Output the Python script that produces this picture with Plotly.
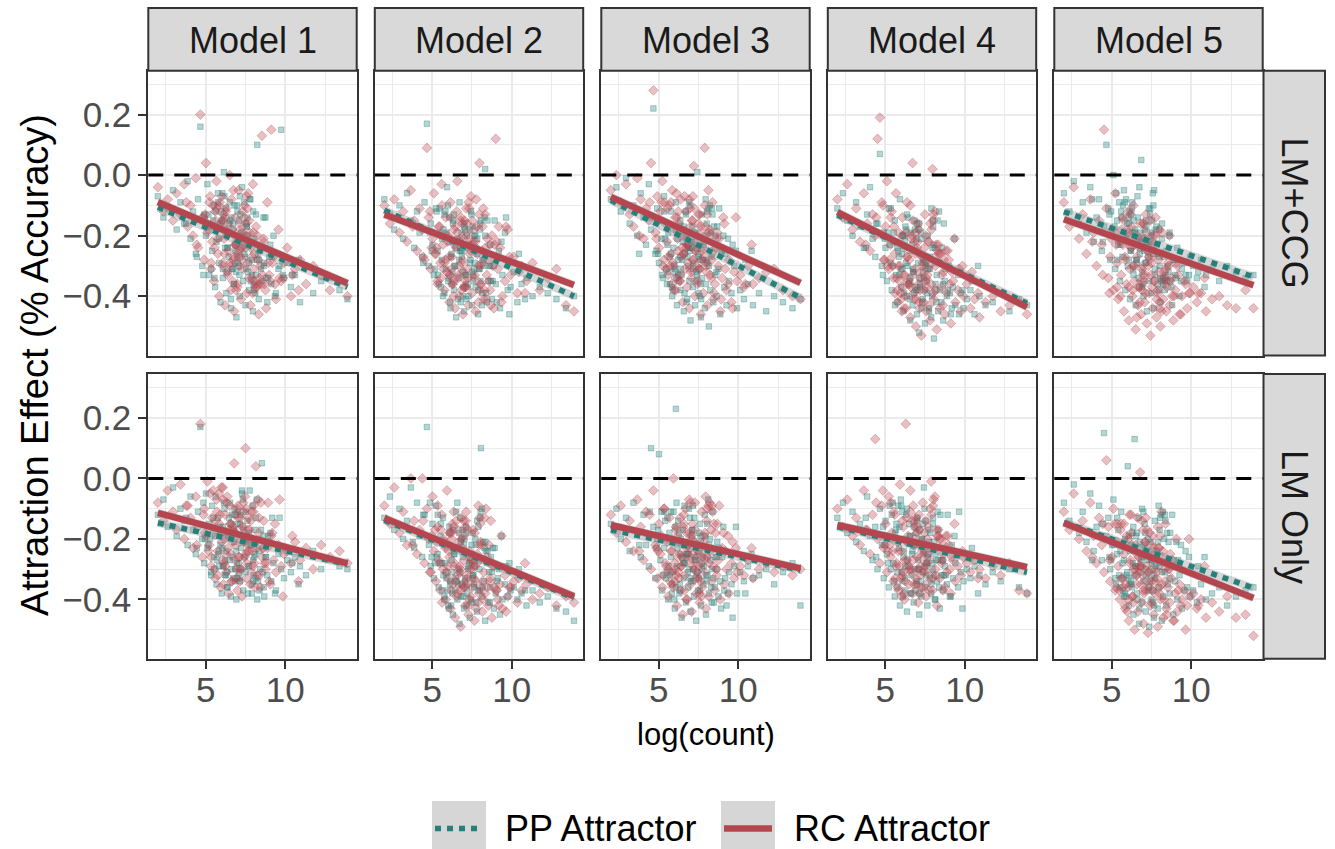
import plotly.graph_objects as go

# ---------------------------------------------------------------- data
models = ["Model 1", "Model 2", "Model 3", "Model 4", "Model 5"]
conditions = ["LM+CCG", "LM Only"]
series_names = ["PP Attractor", "RC Attractor"]

x_tick_vals = [5, 10]
x_tick_text = ["5", "10"]
y_tick_vals = [-0.4, -0.2, 0.0, 0.2]
y_tick_text = ["\u22120.4", "\u22120.2", "0.0", "0.2"]

# log frequency of each item (shared by every panel and both attractor types)
log_count = [
    2.00, 2.35, 2.62, 2.95, 3.18, 3.42, 3.66, 3.87, 4.05, 4.21,
    4.38, 4.52, 4.67, 4.79, 4.91, 5.02, 5.11, 5.23, 5.34, 5.41,
    5.52, 5.60, 5.68, 5.77, 5.85, 5.93, 6.01, 6.08, 6.15, 6.22,
    6.30, 6.37, 6.44, 6.51, 6.58, 6.65, 6.72, 6.79, 6.86, 6.93,
    7.00, 7.07, 7.14, 7.21, 7.28, 7.36, 7.43, 7.50, 7.58, 7.65,
    7.73, 7.81, 7.89, 7.97, 8.06, 8.15, 8.24, 8.33, 8.43, 8.53,
    8.64, 8.75, 8.87, 8.99, 9.12, 9.26, 9.41, 9.57, 9.74, 9.92,
    10.12, 10.35, 10.61, 10.92, 11.30, 11.75, 12.25, 12.80, 13.40, 13.90,
    6.47, 7.12, 5.83, 8.21, 6.96, 7.54, 6.18, 8.68, 5.47, 7.83,
    6.62, 7.29, 8.04, 5.98, 6.84, 9.06, 7.41, 6.33, 7.95, 5.71,
    6.76, 8.38, 7.18, 6.05, 8.92, 7.67, 5.35, 6.54, 7.47, 8.12,
    6.27, 7.03, 8.57, 5.90, 6.91, 7.76, 9.35, 6.40, 7.24, 8.47,
    5.62, 6.69, 7.58, 8.29, 4.86, 6.12, 7.37, 8.80, 6.81, 7.90,
    5.28, 6.58, 7.09, 9.64, 6.23, 7.71, 8.16, 5.77, 6.99, 7.33,
    4.44, 8.63, 6.36, 7.52, 10.44, 5.55, 6.74, 8.01, 7.15, 9.18,
    4.97, 6.08, 7.62, 8.34, 5.18, 6.88, 7.99, 9.85, 3.78, 10.83,
]

# ---- LM+CCG: RC attractor effects
rc_ccg_m1 = [
    -0.04, -0.12, -0.08, -0.15, -0.06, -0.13, -0.03, -0.17, -0.10, -0.20,
    -0.01, -0.24, 0.20, -0.14, -0.28, 0.04, -0.19, -0.09, -0.31, -0.22,
    -0.35, -0.12, -0.02, -0.26, -0.40, -0.16, -0.07, -0.30, -0.21, -0.43,
    -0.11, -0.33, -0.25, 0.00, -0.38, -0.18, -0.28, -0.45, -0.14, -0.23,
    -0.36, -0.05, -0.27, -0.41, -0.19, -0.31, -0.10, -0.24, -0.39, -0.29,
    -0.15, -0.43, -0.34, -0.03, -0.26, -0.37, -0.20, -0.46, -0.30, 0.13,
    -0.22, -0.38, -0.09, -0.33, 0.15, -0.27, -0.41, -0.18, -0.35, -0.29,
    -0.24, -0.40, -0.31, -0.28, -0.36, -0.30, -0.33, -0.38, -0.35, -0.40,
    -0.19, -0.30, -0.10, -0.37, -0.22, -0.16, -0.26, -0.36, -0.10, -0.24,
    -0.08, -0.28, -0.35, -0.17, -0.23, -0.35, -0.14, -0.20, -0.39, -0.11,
    -0.27, -0.34, -0.18, -0.15, -0.29, -0.06, -0.29, -0.29, -0.21, -0.36,
    -0.12, -0.26, -0.33, -0.09, -0.38, -0.19, -0.36, -0.16, -0.24, -0.36,
    -0.15, -0.35, -0.07, -0.28, -0.14, -0.13, -0.23, -0.44, -0.20, -0.27,
    -0.07, -0.30, -0.25, -0.34, -0.14, -0.34, -0.17, -0.21, -0.37, -0.12,
    -0.23, -0.21, -0.32, -0.20, -0.33, -0.24, -0.05, -0.31, -0.16, -0.29,
    -0.13, -0.29, -0.11, -0.36, -0.18, -0.23, -0.19, -0.34, -0.09, -0.38,
]
rc_ccg_m2 = [
    -0.10, -0.16, -0.08, -0.19, -0.12, -0.22, -0.05, -0.15, -0.25, -0.11,
    -0.18, -0.28, 0.09, -0.14, -0.31, -0.21, -0.06, -0.26, -0.35, -0.17,
    -0.29, -0.03, -0.23, -0.38, -0.14, -0.32, -0.20, -0.42, -0.09, -0.27,
    -0.36, -0.18, -0.44, -0.24, -0.02, -0.33, -0.40, -0.15, -0.29, -0.46,
    -0.21, -0.37, -0.11, -0.31, -0.43, -0.26, -0.07, -0.39, -0.22, -0.34,
    -0.45, -0.17, -0.30, 0.04, -0.36, -0.25, -0.41, -0.13, -0.33, -0.28,
    -0.38, -0.20, -0.44, 0.12, -0.31, -0.24, -0.40, -0.35, -0.18, -0.33,
    -0.27, -0.39, -0.30, -0.35, -0.29, -0.38, -0.34, -0.31, -0.43, -0.45,
    -0.17, -0.37, -0.28, -0.11, -0.32, -0.23, -0.14, -0.43, -0.17, -0.26,
    -0.34, -0.09, -0.30, -0.22, -0.38, -0.22, -0.25, -0.35, -0.13, -0.31,
    -0.21, -0.41, -0.16, -0.27, -0.23, -0.33, -0.36, -0.12, -0.24, -0.29,
    -0.36, -0.15, -0.35, -0.20, -0.28, -0.08, -0.42, -0.23, -0.34, -0.21,
    -0.10, -0.30, -0.24, -0.38, -0.12, -0.33, -0.21, -0.30, -0.14, -0.42,
    -0.24, -0.19, -0.35, -0.17, -0.31, -0.22, -0.17, -0.29, -0.37, -0.11,
    -0.27, -0.23, -0.40, -0.15, -0.32, -0.34, -0.22, -0.36, -0.19, -0.17,
    -0.24, -0.33, -0.18, -0.24, -0.26, -0.16, -0.38, -0.27, -0.17, -0.39,
]
rc_ccg_m3 = [
    -0.05, 0.00, -0.09, -0.03, -0.13, -0.17, -0.01, -0.08, -0.21, -0.11,
    -0.15, 0.04, 0.28, -0.19, -0.07, -0.24, -0.12, -0.02, -0.28, -0.16,
    -0.22, -0.33, -0.10, -0.26, -0.05, -0.30, -0.18, -0.38, -0.14, -0.25,
    -0.35, -0.08, -0.27, -0.42, -0.20, -0.31, -0.12, -0.37, -0.23, -0.44,
    -0.17, -0.34, -0.28, 0.03, -0.40, -0.22, -0.36, -0.13, -0.31, -0.46,
    -0.25, -0.39, 0.09, -0.29, -0.43, -0.19, -0.33, -0.26, -0.41, -0.36,
    -0.21, -0.30, -0.45, -0.34, -0.16, -0.38, -0.28, -0.42, -0.32, -0.35,
    -0.33, -0.37, -0.30, -0.36, -0.34, -0.32, -0.31, -0.38, -0.40, -0.41,
    -0.24, -0.15, -0.36, -0.18, -0.11, -0.31, -0.21, -0.19, -0.31, -0.27,
    -0.07, -0.25, -0.13, -0.38, -0.29, -0.14, -0.20, -0.33, -0.17, -0.30,
    -0.23, -0.09, -0.28, -0.14, -0.41, -0.19, -0.09, -0.26, -0.35, -0.05,
    -0.16, -0.32, -0.24, -0.29, -0.08, -0.24, -0.36, -0.18, -0.11, -0.39,
    -0.27, -0.20, -0.13, -0.34, -0.21, -0.06, -0.30, -0.21, -0.23, -0.10,
    -0.30, -0.26, -0.15, -0.44, -0.12, -0.28, -0.20, -0.09, -0.31, -0.25,
    -0.09, -0.24, -0.35, -0.16, -0.36, -0.11, -0.24, -0.32, -0.07, -0.31,
    -0.15, -0.34, -0.17, -0.28, -0.09, -0.23, -0.30, -0.14, -0.20, -0.23,
]
rc_ccg_m4 = [
    -0.08, -0.14, -0.03, -0.18, -0.11, -0.22, -0.06, -0.16, -0.25, -0.13,
    -0.20, 0.12, 0.19, -0.09, -0.28, -0.17, -0.02, -0.31, -0.23, -0.12,
    -0.34, -0.26, -0.06, -0.38, -0.19, -0.30, -0.41, -0.14, -0.33, -0.24,
    -0.44, -0.09, -0.36, -0.28, -0.47, -0.21, 0.04, -0.39, -0.31, -0.50,
    -0.25, -0.16, -0.42, -0.34, -0.53, -0.27, -0.38, -0.13, -0.45, -0.33,
    -0.22, -0.48, -0.36, 0.02, -0.41, -0.30, -0.51, -0.26, -0.44, -0.37,
    -0.32, -0.46, -0.39, -0.28, -0.49, -0.35, -0.42, -0.38, -0.45, -0.40,
    -0.36, -0.44, -0.41, -0.47, -0.42, -0.40, -0.45, -0.43, -0.42, -0.46,
    -0.35, -0.18, -0.30, -0.23, -0.41, -0.20, -0.44, -0.28, -0.30, -0.16,
    -0.37, -0.27, -0.13, -0.39, -0.22, -0.36, -0.42, -0.19, -0.29, -0.34,
    -0.15, -0.26, -0.38, -0.45, -0.25, -0.31, -0.14, -0.36, -0.24, -0.12,
    -0.40, -0.22, -0.33, -0.35, -0.19, -0.43, -0.21, -0.27, -0.32, -0.26,
    -0.39, -0.20, -0.34, -0.25, -0.10, -0.37, -0.29, -0.25, -0.41, -0.18,
    -0.28, -0.10, -0.36, -0.31, -0.33, -0.22, -0.38, -0.42, -0.24, -0.30,
    -0.14, -0.43, -0.27, -0.35, -0.32, -0.17, -0.33, -0.15, -0.44, -0.32,
    -0.28, -0.20, -0.37, -0.23, -0.30, -0.26, -0.39, -0.30, -0.23, -0.39,
]
rc_ccg_m5 = [
    -0.09, -0.17, -0.04, -0.21, -0.13, -0.26, -0.08, -0.19, -0.30, -0.15,
    -0.23, 0.15, -0.11, -0.34, -0.27, -0.18, -0.38, -0.06, -0.29, -0.41,
    -0.22, -0.33, -0.14, -0.45, -0.28, -0.36, -0.19, -0.48, -0.31, -0.24,
    -0.40, -0.10, -0.35, -0.51, -0.27, -0.43, -0.21, -0.37, -0.46, -0.30,
    -0.16, -0.42, -0.33, -0.49, -0.25, -0.39, -0.53, -0.29, -0.44, -0.35,
    -0.20, -0.47, -0.38, -0.32, -0.50, -0.26, -0.41, -0.36, -0.45, -0.29,
    -0.43, -0.34, -0.48, -0.38, -0.30, -0.46, -0.40, -0.35, -0.44, -0.39,
    -0.37, -0.42, -0.39, -0.45, -0.41, -0.40, -0.43, -0.44, -0.38, -0.44,
    -0.22, -0.39, -0.27, -0.34, -0.16, -0.37, -0.13, -0.35, -0.21, -0.41,
    -0.20, -0.30, -0.44, -0.18, -0.35, -0.29, -0.15, -0.38, -0.28, -0.23,
    -0.42, -0.31, -0.19, -0.12, -0.40, -0.26, -0.37, -0.21, -0.33, -0.45,
    -0.17, -0.35, -0.30, -0.22, -0.38, -0.14, -0.46, -0.30, -0.25, -0.37,
    -0.18, -0.37, -0.23, -0.32, -0.39, -0.20, -0.28, -0.40, -0.16, -0.39,
    -0.23, -0.47, -0.21, -0.36, -0.24, -0.35, -0.19, -0.15, -0.33, -0.27,
    -0.33, -0.20, -0.30, -0.22, -0.39, -0.40, -0.24, -0.42, -0.13, -0.33,
    -0.21, -0.37, -0.20, -0.34, -0.19, -0.31, -0.18, -0.39, -0.22, -0.34,
]

# ---- LM+CCG: PP attractor effects
pp_ccg_m1 = [
    -0.07, -0.14, -0.11, -0.05, -0.18, -0.09, -0.16, -0.02, -0.21, -0.12,
    -0.26, -0.08, 0.16, -0.30, -0.13, -0.20, -0.03, -0.33, -0.17, -0.25,
    -0.10, -0.37, -0.22, -0.06, -0.29, -0.42, -0.15, -0.34, 0.01, -0.24,
    -0.39, -0.19, -0.27, -0.09, -0.44, -0.31, -0.16, -0.36, -0.23, -0.47,
    -0.12, -0.30, -0.40, -0.20, -0.04, -0.35, -0.26, -0.43, -0.17, -0.32,
    -0.38, -0.08, -0.28, -0.45, -0.21, -0.33, 0.10, -0.41, -0.25, -0.35,
    -0.30, -0.14, -0.42, -0.27, -0.36, -0.20, -0.39, -0.31, 0.15, -0.34,
    -0.29, -0.37, -0.33, -0.42, -0.30, -0.39, -0.35, -0.34, -0.38, -0.41,
    -0.16, -0.33, -0.21, -0.28, -0.10, -0.31, -0.07, -0.29, -0.15, -0.35,
    -0.14, -0.24, -0.38, -0.12, -0.29, -0.23, -0.09, -0.32, -0.22, -0.17,
    -0.36, -0.25, -0.13, -0.06, -0.34, -0.20, -0.31, -0.15, -0.27, -0.39,
    -0.11, -0.29, -0.24, -0.16, -0.32, -0.08, -0.40, -0.24, -0.19, -0.31,
    -0.12, -0.31, -0.17, -0.26, -0.33, -0.14, -0.22, -0.34, -0.10, -0.33,
    -0.17, -0.41, -0.15, -0.30, -0.18, -0.29, -0.13, -0.09, -0.27, -0.21,
    -0.27, -0.14, -0.24, -0.16, -0.33, -0.34, -0.18, -0.36, -0.07, -0.27,
    -0.15, -0.31, -0.14, -0.28, -0.13, -0.25, -0.12, -0.33, -0.16, -0.28,
]
pp_ccg_m2 = [
    -0.08, -0.13, -0.18, -0.10, -0.21, -0.06, -0.15, -0.24, -0.12, -0.19,
    -0.27, -0.09, 0.17, -0.30, -0.16, -0.23, -0.33, -0.11, -0.25, -0.36,
    -0.19, -0.28, -0.40, -0.13, -0.31, -0.04, -0.35, -0.22, -0.44, -0.26,
    -0.16, -0.38, -0.30, -0.47, -0.21, -0.34, -0.09, -0.42, -0.27, -0.32,
    -0.45, -0.18, -0.36, -0.24, -0.40, -0.29, -0.12, -0.43, -0.33, -0.20,
    -0.37, -0.26, -0.46, -0.31, -0.15, -0.39, -0.28, 0.02, -0.42, -0.35,
    -0.23, -0.41, -0.30, -0.36, -0.27, -0.44, -0.33, -0.19, -0.38, -0.37,
    -0.32, -0.42, -0.36, -0.34, -0.40, -0.37, -0.39, -0.41, -0.44, -0.40,
    -0.24, -0.33, -0.12, -0.30, -0.37, -0.17, -0.27, -0.35, -0.11, -0.21,
    -0.41, -0.23, -0.35, -0.10, -0.19, -0.42, -0.28, -0.15, -0.31, -0.18,
    -0.25, -0.39, -0.20, -0.34, -0.15, -0.29, -0.33, -0.22, -0.13, -0.43,
    -0.32, -0.16, -0.30, -0.19, -0.40, -0.24, -0.22, -0.30, -0.37, -0.15,
    -0.21, -0.28, -0.35, -0.14, -0.19, -0.42, -0.18, -0.35, -0.25, -0.38,
    -0.12, -0.22, -0.33, -0.14, -0.36, -0.20, -0.28, -0.39, -0.17, -0.23,
    -0.29, -0.30, -0.13, -0.32, -0.26, -0.37, -0.24, -0.16, -0.41, -0.25,
    -0.25, -0.14, -0.31, -0.20, -0.31, -0.25, -0.18, -0.46, -0.16, -0.41,
]
pp_ccg_m3 = [
    -0.08, -0.04, -0.12, -0.01, -0.16, -0.10, -0.20, -0.06, -0.14, -0.23,
    -0.03, -0.18, 0.22, -0.26, -0.11, -0.29, -0.15, -0.33, -0.07, -0.21,
    -0.36, -0.19, -0.27, -0.12, -0.40, -0.24, -0.31, -0.09, -0.43, -0.28,
    -0.17, -0.38, -0.33, -0.22, -0.45, -0.26, -0.13, -0.41, -0.30, -0.35,
    -0.48, -0.24, -0.37, -0.19, -0.43, -0.32, 0.01, -0.39, -0.28, -0.47,
    -0.34, -0.22, -0.44, -0.36, -0.29, -0.50, -0.38, -0.27, -0.42, -0.33,
    -0.40, -0.31, -0.46, -0.25, -0.37, -0.43, -0.35, -0.39, -0.30, -0.44,
    -0.38, -0.41, -0.36, -0.43, -0.39, -0.45, -0.40, -0.42, -0.44, -0.41,
    -0.28, -0.17, -0.37, -0.10, -0.25, -0.31, -0.21, -0.17, -0.31, -0.23,
    -0.39, -0.19, -0.12, -0.30, -0.24, -0.20, -0.33, -0.27, -0.08, -0.36,
    -0.20, -0.13, -0.29, -0.32, -0.26, -0.41, -0.12, -0.18, -0.26, -0.11,
    -0.35, -0.21, -0.20, -0.38, -0.09, -0.28, -0.21, -0.31, -0.23, -0.17,
    -0.32, -0.12, -0.40, -0.19, -0.25, -0.34, -0.24, -0.11, -0.27, -0.20,
    -0.34, -0.17, -0.22, -0.23, -0.33, -0.13, -0.30, -0.26, -0.10, -0.35,
    -0.14, -0.32, -0.15, -0.27, -0.28, -0.23, -0.42, -0.16, -0.31, -0.26,
    -0.26, -0.18, -0.36, -0.11, -0.21, -0.24, -0.28, -0.25, -0.26, -0.25,
]
pp_ccg_m4 = [
    -0.11, -0.06, -0.15, -0.20, -0.09, -0.17, -0.24, -0.13, -0.04, -0.21,
    -0.27, -0.16, 0.07, -0.30, -0.19, -0.24, -0.35, -0.11, -0.29, -0.38,
    -0.22, -0.15, -0.33, -0.42, -0.27, -0.08, -0.37, -0.31, -0.45, -0.20,
    -0.29, -0.40, -0.14, -0.35, -0.48, -0.25, -0.43, -0.32, -0.18, -0.38,
    -0.46, -0.29, -0.52, -0.36, -0.21, -0.41, -0.34, -0.49, -0.27, -0.39,
    -0.44, -0.31, -0.47, -0.24, -0.54, -0.38, -0.33, -0.45, -0.29, -0.42,
    -0.48, -0.35, -0.40, -0.30, -0.46, -0.37, -0.43, -0.33, -0.39, -0.44,
    -0.41, -0.38, -0.46, -0.40, -0.43, -0.42, -0.39, -0.45, -0.41, -0.43,
    -0.36, -0.16, -0.25, -0.42, -0.21, -0.30, -0.39, -0.16, -0.30, -0.27,
    -0.19, -0.44, -0.23, -0.31, -0.15, -0.39, -0.28, -0.18, -0.40, -0.22,
    -0.32, -0.12, -0.37, -0.26, -0.38, -0.20, -0.11, -0.41, -0.29, -0.24,
    -0.17, -0.38, -0.24, -0.33, -0.25, -0.45, -0.21, -0.30, -0.19, -0.38,
    -0.43, -0.23, -0.29, -0.15, -0.33, -0.20, -0.32, -0.31, -0.39, -0.11,
    -0.23, -0.34, -0.18, -0.46, -0.22, -0.31, -0.36, -0.24, -0.16, -0.42,
    -0.16, -0.36, -0.13, -0.38, -0.35, -0.19, -0.31, -0.17, -0.34, -0.44,
    -0.21, -0.20, -0.35, -0.29, -0.19, -0.37, -0.15, -0.38, -0.24, -0.30,
]
pp_ccg_m5 = [
    -0.06, -0.12, -0.02, -0.16, -0.09, -0.19, -0.04, -0.22, -0.14, -0.08,
    -0.25, -0.17, 0.10, -0.11, -0.28, -0.20, 0.00, -0.31, -0.15, -0.23,
    -0.35, -0.12, -0.27, -0.05, -0.38, -0.21, -0.30, -0.16, -0.41, -0.25,
    -0.09, -0.33, -0.19, -0.43, -0.28, -0.14, -0.37, -0.24, 0.05, -0.32,
    -0.40, -0.18, -0.29, -0.45, -0.22, -0.35, -0.11, -0.39, -0.26, -0.44,
    -0.31, -0.17, -0.36, -0.27, -0.42, -0.21, -0.34, -0.38, -0.25, -0.30,
    -0.19, -0.37, -0.28, -0.33, -0.24, -0.40, -0.31, -0.29, -0.35, -0.27,
    -0.30, -0.34, -0.28, -0.33, -0.31, -0.35, -0.30, -0.32, -0.34, -0.33,
    -0.18, -0.29, -0.09, -0.36, -0.21, -0.15, -0.25, -0.35, -0.09, -0.23,
    -0.07, -0.27, -0.34, -0.16, -0.22, -0.34, -0.13, -0.19, -0.38, -0.10,
    -0.26, -0.33, -0.17, -0.14, -0.28, -0.05, -0.28, -0.28, -0.20, -0.35,
    -0.11, -0.25, -0.32, -0.08, -0.37, -0.18, -0.35, -0.15, -0.23, -0.35,
    -0.14, -0.34, -0.06, -0.27, -0.13, -0.12, -0.22, -0.43, -0.19, -0.26,
    -0.06, -0.29, -0.24, -0.33, -0.13, -0.33, -0.16, -0.20, -0.36, -0.11,
    -0.22, -0.20, -0.31, -0.19, -0.32, -0.23, -0.04, -0.30, -0.15, -0.28,
    -0.12, -0.28, -0.10, -0.35, -0.17, -0.22, -0.18, -0.33, -0.08, -0.37,
]

# ---- LM Only: RC attractor effects
rc_lm_m1 = [
    -0.08, -0.14, -0.04, -0.11, -0.17, -0.02, -0.20, -0.09, -0.13, -0.23,
    -0.06, -0.16, 0.18, -0.26, -0.10, -0.19, -0.01, -0.22, -0.29, -0.13,
    -0.18, -0.33, -0.07, -0.24, -0.15, -0.36, -0.21, -0.03, -0.28, -0.12,
    -0.31, -0.19, -0.38, -0.09, -0.25, -0.34, -0.16, 0.05, -0.27, -0.22,
    -0.37, -0.13, -0.30, -0.20, -0.39, -0.08, -0.26, 0.10, -0.33, -0.17,
    -0.24, -0.35, -0.11, -0.29, -0.21, 0.04, -0.32, -0.18, -0.36, -0.26,
    -0.14, -0.30, -0.23, -0.34, -0.19, -0.27, -0.31, -0.22, -0.29, -0.25,
    -0.24, -0.28, -0.21, -0.27, -0.23, -0.30, -0.22, -0.26, -0.24, -0.28,
    -0.17, -0.26, -0.05, -0.23, -0.30, -0.10, -0.20, -0.28, -0.04, -0.14,
    -0.34, -0.16, -0.28, -0.03, -0.12, -0.35, -0.21, -0.08, -0.24, -0.11,
    -0.18, -0.32, -0.13, -0.27, -0.08, -0.22, -0.26, -0.15, -0.06, -0.36,
    -0.25, -0.09, -0.23, -0.12, -0.33, -0.17, -0.15, -0.23, -0.30, -0.08,
    -0.14, -0.21, -0.28, -0.07, -0.12, -0.35, -0.11, -0.28, -0.18, -0.31,
    -0.05, -0.15, -0.26, -0.07, -0.29, -0.13, -0.21, -0.32, -0.10, -0.16,
    -0.22, -0.23, -0.06, -0.25, -0.19, -0.30, -0.17, -0.09, -0.34, -0.18,
    -0.18, -0.07, -0.24, -0.13, -0.24, -0.18, -0.11, -0.39, -0.09, -0.34,
]
rc_lm_m2 = [
    -0.09, -0.15, -0.03, -0.18, -0.11, -0.22, 0.00, -0.14, -0.25, -0.17,
    0.00, -0.28, -0.10, -0.20, -0.31, -0.06, -0.24, -0.34, -0.16, -0.27,
    -0.37, -0.12, -0.30, -0.21, -0.40, -0.04, -0.33, -0.26, -0.43, -0.18,
    -0.35, -0.29, -0.46, -0.14, -0.38, -0.23, -0.31, -0.49, -0.20, -0.36,
    -0.27, -0.42, -0.11, -0.33, -0.45, -0.24, -0.39, -0.30, -0.17, -0.47,
    -0.34, -0.28, -0.41, -0.22, -0.36, -0.44, -0.31, -0.38, -0.26, -0.42,
    -0.33, -0.46, -0.29, -0.37, -0.40, -0.35, -0.43, -0.32, -0.39, -0.36,
    -0.34, -0.41, -0.37, -0.35, -0.40, -0.38, -0.36, -0.42, -0.39, -0.41,
    -0.34, -0.14, -0.23, -0.40, -0.19, -0.28, -0.37, -0.14, -0.28, -0.25,
    -0.17, -0.42, -0.21, -0.29, -0.13, -0.37, -0.26, -0.16, -0.38, -0.20,
    -0.30, -0.10, -0.35, -0.24, -0.36, -0.18, -0.09, -0.39, -0.27, -0.22,
    -0.15, -0.36, -0.22, -0.31, -0.23, -0.43, -0.19, -0.28, -0.17, -0.36,
    -0.41, -0.21, -0.27, -0.13, -0.31, -0.18, -0.30, -0.29, -0.37, -0.09,
    -0.21, -0.32, -0.16, -0.44, -0.20, -0.29, -0.34, -0.22, -0.14, -0.40,
    -0.14, -0.34, -0.11, -0.36, -0.33, -0.17, -0.29, -0.15, -0.32, -0.42,
    -0.19, -0.18, -0.33, -0.27, -0.17, -0.35, -0.13, -0.36, -0.22, -0.28,
]
rc_lm_m3 = [
    -0.12, -0.18, -0.09, -0.21, -0.14, -0.24, -0.07, -0.16, -0.27, -0.11,
    -0.19, -0.30, -0.04, -0.22, -0.33, -0.15, -0.25, -0.36, -0.10, -0.28,
    -0.20, -0.39, -0.13, -0.31, -0.24, 0.00, -0.34, -0.17, -0.42, -0.26,
    -0.21, -0.37, -0.29, -0.45, -0.12, -0.32, -0.23, -0.40, -0.27, -0.18,
    -0.35, -0.44, -0.25, -0.30, -0.08, -0.38, -0.22, -0.33, -0.41, -0.28,
    -0.36, -0.19, -0.31, -0.43, -0.26, -0.39, -0.24, -0.34, -0.29, -0.37,
    -0.32, -0.27, -0.40, -0.23, -0.35, -0.30, -0.38, -0.28, -0.33, -0.31,
    -0.29, -0.32, -0.27, -0.33, -0.30, -0.28, -0.31, -0.29, -0.32, -0.30,
    -0.26, -0.15, -0.35, -0.08, -0.23, -0.29, -0.19, -0.15, -0.29, -0.21,
    -0.37, -0.17, -0.10, -0.28, -0.22, -0.18, -0.31, -0.25, -0.06, -0.34,
    -0.18, -0.11, -0.27, -0.30, -0.24, -0.39, -0.10, -0.16, -0.24, -0.09,
    -0.33, -0.19, -0.18, -0.36, -0.07, -0.26, -0.19, -0.29, -0.21, -0.15,
    -0.30, -0.10, -0.38, -0.17, -0.23, -0.32, -0.22, -0.09, -0.25, -0.18,
    -0.32, -0.15, -0.20, -0.21, -0.31, -0.11, -0.28, -0.24, -0.08, -0.33,
    -0.12, -0.30, -0.13, -0.25, -0.26, -0.21, -0.40, -0.14, -0.29, -0.24,
    -0.24, -0.16, -0.34, -0.09, -0.19, -0.22, -0.26, -0.23, -0.24, -0.23,
]
rc_lm_m4 = [
    -0.10, -0.16, -0.07, -0.19, -0.13, -0.22, -0.04, -0.17, -0.25, -0.12,
    0.13, -0.20, -0.28, -0.09, -0.23, -0.15, -0.31, -0.06, -0.26, -0.18,
    -0.34, -0.12, -0.29, -0.21, -0.37, -0.02, -0.24, -0.32, -0.16, -0.40,
    0.18, -0.27, -0.19, -0.35, -0.11, -0.30, -0.38, -0.22, -0.14, -0.33,
    -0.26, -0.41, -0.17, -0.29, -0.36, -0.08, -0.31, -0.24, -0.39, -0.20,
    -0.34, -0.27, -0.01, -0.37, -0.23, -0.30, -0.42, -0.19, -0.33, -0.28,
    -0.25, -0.36, -0.31, -0.22, -0.38, -0.27, -0.34, -0.29, -0.32, -0.26,
    -0.28, -0.31, -0.27, -0.30, -0.33, -0.29, -0.32, -0.28, -0.37, -0.38,
    -0.29, -0.12, -0.24, -0.17, -0.35, -0.14, -0.38, -0.22, -0.24, -0.10,
    -0.31, -0.21, -0.07, -0.33, -0.16, -0.30, -0.36, -0.13, -0.23, -0.28,
    -0.09, -0.20, -0.32, -0.39, -0.19, -0.25, -0.08, -0.30, -0.18, -0.06,
    -0.34, -0.16, -0.27, -0.29, -0.13, -0.37, -0.15, -0.21, -0.26, -0.20,
    -0.33, -0.14, -0.28, -0.19, -0.04, -0.31, -0.23, -0.19, -0.35, -0.12,
    -0.22, -0.04, -0.30, -0.25, -0.27, -0.16, -0.32, -0.36, -0.18, -0.24,
    -0.08, -0.37, -0.21, -0.29, -0.26, -0.11, -0.27, -0.09, -0.38, -0.26,
    -0.22, -0.14, -0.31, -0.17, -0.24, -0.20, -0.33, -0.24, -0.17, -0.33,
]
rc_lm_m5 = [
    -0.11, -0.17, -0.05, -0.20, -0.14, -0.24, -0.08, -0.19, -0.28, -0.13,
    -0.22, -0.31, 0.06, -0.16, -0.34, -0.26, -0.10, -0.37, -0.21, -0.29,
    -0.40, -0.15, -0.33, -0.25, -0.43, -0.19, -0.36, -0.47, -0.28, -0.12,
    -0.39, -0.30, -0.50, -0.22, -0.35, -0.44, -0.26, 0.02, -0.41, -0.32,
    -0.48, -0.24, -0.37, -0.29, -0.51, -0.18, -0.42, -0.34, -0.27, -0.45,
    -0.38, -0.31, -0.49, -0.23, -0.40, -0.35, -0.46, -0.30, -0.43, -0.36,
    -0.41, -0.33, -0.47, -0.38, -0.44, -0.35, -0.40, -0.37, -0.42, -0.39,
    -0.38, -0.43, -0.40, -0.46, -0.41, -0.44, -0.39, -0.46, -0.45, -0.52,
    -0.30, -0.21, -0.42, -0.24, -0.17, -0.37, -0.27, -0.25, -0.37, -0.33,
    -0.13, -0.31, -0.19, -0.44, -0.35, -0.20, -0.26, -0.39, -0.23, -0.36,
    -0.29, -0.15, -0.34, -0.20, -0.47, -0.25, -0.15, -0.32, -0.41, -0.11,
    -0.22, -0.38, -0.30, -0.35, -0.14, -0.30, -0.42, -0.24, -0.17, -0.45,
    -0.33, -0.26, -0.19, -0.40, -0.27, -0.12, -0.36, -0.27, -0.29, -0.16,
    -0.36, -0.32, -0.21, -0.50, -0.18, -0.34, -0.26, -0.15, -0.37, -0.31,
    -0.15, -0.30, -0.41, -0.22, -0.42, -0.17, -0.30, -0.38, -0.13, -0.37,
    -0.21, -0.40, -0.23, -0.34, -0.15, -0.29, -0.36, -0.20, -0.26, -0.29,
]

# ---- LM Only: PP attractor effects
pp_lm_m1 = [
    -0.12, -0.07, -0.16, -0.03, -0.19, -0.10, -0.14, -0.22, -0.06, -0.17,
    -0.25, -0.11, 0.17, -0.20, -0.28, -0.05, -0.23, -0.15, -0.31, -0.09,
    -0.26, -0.19, -0.35, -0.13, -0.29, -0.22, -0.38, -0.16, -0.08, -0.32,
    -0.24, -0.36, -0.18, -0.27, -0.39, -0.12, -0.33, -0.21, -0.30, -0.40,
    -0.15, -0.28, -0.34, -0.23, -0.04, -0.37, -0.26, -0.31, -0.19, -0.38,
    -0.29, -0.22, -0.35, -0.27, -0.17, -0.33, -0.40, -0.24, -0.30, 0.05,
    -0.36, -0.26, -0.32, -0.21, -0.34, -0.28, -0.37, -0.25, -0.30, -0.33,
    -0.27, -0.31, -0.26, -0.29, -0.32, -0.24, -0.30, -0.27, -0.29, -0.30,
    -0.13, -0.33, -0.24, -0.07, -0.28, -0.19, -0.10, -0.39, -0.13, -0.22,
    -0.30, -0.05, -0.26, -0.18, -0.34, -0.18, -0.21, -0.31, -0.09, -0.27,
    -0.17, -0.37, -0.12, -0.23, -0.19, -0.29, -0.32, -0.08, -0.20, -0.25,
    -0.32, -0.11, -0.31, -0.16, -0.24, -0.04, -0.38, -0.19, -0.30, -0.17,
    -0.06, -0.26, -0.20, -0.34, -0.08, -0.29, -0.17, -0.26, -0.10, -0.38,
    -0.20, -0.15, -0.31, -0.13, -0.27, -0.18, -0.13, -0.25, -0.33, -0.07,
    -0.23, -0.19, -0.36, -0.11, -0.28, -0.30, -0.18, -0.32, -0.15, -0.13,
    -0.20, -0.29, -0.14, -0.20, -0.22, -0.12, -0.34, -0.23, -0.13, -0.35,
]
pp_lm_m2 = [
    -0.13, -0.06, -0.17, -0.10, -0.20, -0.14, -0.03, -0.23, -0.08, -0.19,
    -0.26, -0.12, 0.17, -0.22, -0.29, -0.15, -0.33, -0.09, -0.25, -0.36,
    -0.19, -0.28, -0.13, -0.39, -0.31, -0.22, -0.42, -0.16, -0.34, -0.27,
    -0.45, -0.24, -0.37, -0.11, -0.40, -0.30, -0.48, -0.21, -0.35, -0.26,
    -0.43, -0.33, -0.18, -0.38, -0.29, -0.46, -0.25, -0.41, -0.32, -0.36,
    -0.22, -0.44, -0.37, -0.30, 0.10, -0.39, -0.34, -0.47, -0.28, -0.41,
    -0.36, -0.31, -0.43, -0.38, -0.33, -0.45, -0.40, -0.35, -0.39, -0.37,
    -0.36, -0.40, -0.38, -0.42, -0.37, -0.41, -0.39, -0.43, -0.44, -0.47,
    -0.33, -0.16, -0.28, -0.21, -0.39, -0.18, -0.42, -0.26, -0.28, -0.14,
    -0.35, -0.25, -0.11, -0.37, -0.20, -0.34, -0.40, -0.17, -0.27, -0.32,
    -0.13, -0.24, -0.36, -0.43, -0.23, -0.29, -0.12, -0.34, -0.22, -0.10,
    -0.38, -0.20, -0.31, -0.33, -0.17, -0.41, -0.19, -0.25, -0.30, -0.24,
    -0.37, -0.18, -0.32, -0.23, -0.08, -0.35, -0.27, -0.23, -0.39, -0.16,
    -0.26, -0.08, -0.34, -0.29, -0.31, -0.20, -0.36, -0.40, -0.22, -0.28,
    -0.12, -0.41, -0.25, -0.33, -0.30, -0.15, -0.31, -0.13, -0.42, -0.30,
    -0.26, -0.18, -0.35, -0.21, -0.28, -0.24, -0.37, -0.28, -0.21, -0.37,
]
pp_lm_m3 = [
    -0.15, -0.10, -0.20, -0.13, -0.24, -0.08, -0.18, -0.26, -0.12, -0.22,
    -0.29, 0.10, -0.16, -0.33, -0.20, 0.08, -0.27, -0.37, -0.23, -0.14,
    -0.31, -0.40, -0.18, -0.26, -0.35, -0.11, -0.43, 0.23, -0.29, -0.21,
    -0.38, -0.25, -0.46, -0.17, -0.33, -0.28, -0.41, -0.22, -0.36, -0.30,
    -0.44, -0.19, -0.34, -0.39, -0.26, -0.47, -0.31, -0.24, -0.37, -0.42,
    -0.28, -0.35, -0.23, -0.45, -0.32, -0.38, -0.27, -0.41, -0.33, -0.36,
    -0.30, -0.39, -0.34, -0.26, -0.37, -0.42, -0.31, -0.35, -0.29, -0.38,
    -0.31, -0.34, -0.29, -0.33, -0.32, -0.30, -0.35, -0.31, -0.28, -0.42,
    -0.26, -0.17, -0.38, -0.20, -0.13, -0.33, -0.23, -0.21, -0.33, -0.29,
    -0.09, -0.27, -0.15, -0.40, -0.31, -0.16, -0.22, -0.35, -0.19, -0.32,
    -0.25, -0.11, -0.30, -0.16, -0.43, -0.21, -0.11, -0.28, -0.37, -0.07,
    -0.18, -0.34, -0.26, -0.31, -0.10, -0.26, -0.38, -0.20, -0.13, -0.41,
    -0.29, -0.22, -0.15, -0.36, -0.23, -0.08, -0.32, -0.23, -0.25, -0.12,
    -0.32, -0.28, -0.17, -0.46, -0.14, -0.30, -0.22, -0.11, -0.33, -0.27,
    -0.11, -0.26, -0.37, -0.18, -0.38, -0.13, -0.26, -0.34, -0.09, -0.33,
    -0.17, -0.36, -0.19, -0.30, -0.11, -0.25, -0.32, -0.16, -0.22, -0.25,
]
pp_lm_m4 = [
    -0.13, -0.08, -0.18, -0.11, -0.21, -0.15, -0.24, -0.06, -0.19, -0.27,
    -0.16, -0.30, -0.10, -0.22, -0.33, -0.14, -0.25, -0.36, -0.20, -0.12,
    -0.28, -0.39, -0.17, -0.31, -0.23, -0.42, -0.09, -0.34, -0.26, -0.37,
    -0.20, -0.44, -0.29, -0.15, -0.38, -0.32, -0.24, -0.41, -0.30, -0.18,
    -0.35, -0.27, -0.45, -0.22, -0.39, -0.31, -0.03, -0.36, -0.28, -0.42,
    -0.25, -0.33, -0.38, -0.30, -0.21, -0.40, -0.34, -0.27, -0.43, -0.32,
    -0.37, -0.29, -0.35, -0.24, -0.39, -0.33, -0.28, -0.36, -0.31, -0.34,
    -0.30, -0.33, -0.29, -0.32, -0.35, -0.31, -0.34, -0.30, -0.36, -0.38,
    -0.21, -0.30, -0.09, -0.27, -0.34, -0.14, -0.24, -0.32, -0.08, -0.18,
    -0.38, -0.20, -0.32, -0.07, -0.16, -0.39, -0.25, -0.12, -0.28, -0.15,
    -0.22, -0.36, -0.17, -0.31, -0.12, -0.26, -0.30, -0.19, -0.10, -0.40,
    -0.29, -0.13, -0.27, -0.16, -0.37, -0.21, -0.19, -0.27, -0.34, -0.12,
    -0.18, -0.25, -0.32, -0.11, -0.16, -0.39, -0.15, -0.32, -0.22, -0.35,
    -0.09, -0.19, -0.30, -0.11, -0.33, -0.17, -0.25, -0.36, -0.14, -0.20,
    -0.26, -0.27, -0.10, -0.29, -0.23, -0.34, -0.21, -0.13, -0.38, -0.22,
    -0.22, -0.11, -0.28, -0.17, -0.28, -0.22, -0.15, -0.43, -0.13, -0.38,
]
pp_lm_m5 = [
    -0.08, -0.14, -0.02, -0.18, -0.11, -0.21, -0.05, -0.24, -0.16, -0.09,
    -0.27, 0.15, -0.19, -0.13, -0.30, -0.22, -0.07, -0.33, -0.25, -0.17,
    -0.36, -0.11, -0.28, -0.39, -0.20, -0.32, 0.04, -0.42, -0.24, -0.35,
    -0.18, -0.45, 0.13, -0.29, -0.38, -0.23, -0.48, -0.31, -0.26, -0.41,
    -0.34, -0.15, -0.44, -0.27, -0.37, -0.49, -0.21, -0.40, -0.30, -0.46,
    -0.33, -0.25, -0.43, -0.36, -0.28, -0.47, -0.39, -0.31, -0.42, -0.35,
    -0.38, -0.29, -0.45, -0.34, -0.40, -0.32, -0.43, -0.37, -0.36, -0.39,
    -0.37, -0.41, -0.35, -0.40, -0.38, -0.36, -0.42, -0.39, -0.37, -0.36,
    -0.29, -0.18, -0.38, -0.11, -0.26, -0.32, -0.22, -0.18, -0.32, -0.24,
    -0.40, -0.20, -0.13, -0.31, -0.25, -0.21, -0.34, -0.28, -0.09, -0.37,
    -0.21, -0.14, -0.30, -0.33, -0.27, -0.42, -0.13, -0.19, -0.27, -0.12,
    -0.36, -0.22, -0.21, -0.39, -0.10, -0.29, -0.22, -0.32, -0.24, -0.18,
    -0.33, -0.13, -0.41, -0.20, -0.26, -0.35, -0.25, -0.12, -0.28, -0.21,
    -0.35, -0.18, -0.23, -0.24, -0.34, -0.14, -0.31, -0.27, -0.11, -0.36,
    -0.15, -0.33, -0.16, -0.28, -0.29, -0.24, -0.43, -0.17, -0.32, -0.27,
    -0.27, -0.19, -0.37, -0.12, -0.22, -0.25, -0.29, -0.26, -0.27, -0.26,
]

# fitted linear trend (value at the lowest and highest log count), per model
pp_fit_lo_ccg = [-0.106, -0.116, -0.083, -0.132, -0.121]
pp_fit_hi_ccg = [-0.370, -0.400, -0.405, -0.423, -0.336]
rc_fit_lo_ccg = [-0.089, -0.130, -0.072, -0.122, -0.146]
rc_fit_hi_ccg = [-0.357, -0.363, -0.356, -0.436, -0.364]
pp_fit_lo_lm = [-0.147, -0.138, -0.170, -0.160, -0.145]
pp_fit_hi_lm = [-0.284, -0.395, -0.303, -0.310, -0.362]
rc_fit_lo_lm = [-0.114, -0.131, -0.154, -0.154, -0.147]
rc_fit_hi_lm = [-0.281, -0.389, -0.297, -0.293, -0.395]

pp_points = [[pp_ccg_m1, pp_ccg_m2, pp_ccg_m3, pp_ccg_m4, pp_ccg_m5],
             [pp_lm_m1, pp_lm_m2, pp_lm_m3, pp_lm_m4, pp_lm_m5]]
rc_points = [[rc_ccg_m1, rc_ccg_m2, rc_ccg_m3, rc_ccg_m4, rc_ccg_m5],
             [rc_lm_m1, rc_lm_m2, rc_lm_m3, rc_lm_m4, rc_lm_m5]]
pp_fit = [[pp_fit_lo_ccg, pp_fit_hi_ccg], [pp_fit_lo_lm, pp_fit_hi_lm]]
rc_fit = [[rc_fit_lo_ccg, rc_fit_hi_ccg], [rc_fit_lo_lm, rc_fit_hi_lm]]

for grid in (pp_points, rc_points):
    for row in grid:
        for vals in row:
            if len(vals) != len(log_count):
                raise ValueError("effect list length %d != %d" % (len(vals), len(log_count)))

# ---------------------------------------------------------------- style
W, H = 1335, 849
FONT = "Liberation Sans, Arial, Helvetica, sans-serif"
PP_COLOR = "#26807A"
RC_COLOR = "#B5464F"
PP_PT = "rgba(38,128,122,0.34)"
RC_PT = "rgba(181,70,80,0.34)"
BAND = "rgba(153,153,153,0.40)"
STRIP_FILL = "#D9D9D9"
FRAME = "#333333"
GRID = "#EBEBEB"
PP_DASH = "6px,6px"

col_left = [148.3 + 226.5 * c for c in range(5)]
panel_w = 208.4
row_top = [70.7, 374.0]
panel_h = 284.8
x_range = [1.40, 14.48]
y_range = [-0.596, 0.345]


def fx(p):
    return p / W


def fy(p):
    return 1 - p / H


fig = go.Figure()
layout = dict(
    width=W, height=H, margin=dict(l=0, r=0, t=0, b=0),
    paper_bgcolor="white", plot_bgcolor="white", showlegend=False,
    font=dict(family=FONT),
)
shapes, annotations = [], []

x_lo, x_hi = min(log_count), max(log_count)

for r in range(2):
    for c in range(5):
        k = r * 5 + c + 1
        xs = "" if k == 1 else str(k)
        xa = dict(
            domain=[fx(col_left[c]), fx(col_left[c] + panel_w)],
            range=x_range, anchor="y" + xs,
            tickmode="array", tickvals=x_tick_vals, ticktext=x_tick_text,
            showgrid=True, gridcolor=GRID, gridwidth=2,
            minor=dict(tickmode="array", tickvals=[2.5, 7.5, 12.5],
                       showgrid=True, gridcolor=GRID, gridwidth=1.3),
            showline=True, linecolor=FRAME, linewidth=2, mirror=True,
            zeroline=False,
            ticks="outside" if r == 1 else "", ticklen=8, tickwidth=2,
            tickcolor=FRAME, showticklabels=(r == 1), ticklabelstandoff=-9,
            tickfont=dict(size=35, color="#4D4D4D", family=FONT),
        )
        ya = dict(
            domain=[fy(row_top[r] + panel_h), fy(row_top[r])],
            range=y_range, anchor="x" + xs,
            tickmode="array", tickvals=y_tick_vals, ticktext=y_tick_text,
            showgrid=True, gridcolor=GRID, gridwidth=2,
            minor=dict(tickmode="array", tickvals=[-0.5, -0.3, -0.1, 0.1, 0.3],
                       showgrid=True, gridcolor=GRID, gridwidth=1.3),
            showline=True, linecolor=FRAME, linewidth=2, mirror=True,
            zeroline=False,
            ticks="outside" if c == 0 else "", ticklen=8, tickwidth=2,
            tickcolor=FRAME, showticklabels=(c == 0),
            tickfont=dict(size=35, color="#4D4D4D", family=FONT),
        )
        layout["xaxis" + xs] = xa
        layout["yaxis" + xs] = ya

        # raw item effects
        fig.add_trace(go.Scatter(
            x=log_count, y=pp_points[r][c], xaxis="x" + xs, yaxis="y" + xs,
            mode="markers", hoverinfo="skip",
            marker=dict(symbol="square", size=5.5, color=PP_PT,
                        line=dict(color=PP_PT, width=1)),
        ))
        fig.add_trace(go.Scatter(
            x=log_count, y=rc_points[r][c], xaxis="x" + xs, yaxis="y" + xs,
            mode="markers", hoverinfo="skip",
            marker=dict(symbol="diamond", size=7.5, color=RC_PT,
                        line=dict(color=RC_PT, width=1)),
        ))

        # linear trends with their (narrow) confidence band
        pp_line = [pp_fit[r][0][c], pp_fit[r][1][c]]
        rc_line = [rc_fit[r][0][c], rc_fit[r][1][c]]
        for yy in (pp_line, rc_line):
            fig.add_trace(go.Scatter(
                x=[x_lo, x_hi], y=yy, xaxis="x" + xs, yaxis="y" + xs,
                mode="lines", hoverinfo="skip",
                line=dict(color=BAND, width=8),
            ))
        fig.add_trace(go.Scatter(
            x=[x_lo, x_hi], y=pp_line, xaxis="x" + xs, yaxis="y" + xs,
            mode="lines", hoverinfo="skip",
            line=dict(color=PP_COLOR, width=5.5, dash=PP_DASH),
        ))
        fig.add_trace(go.Scatter(
            x=[x_lo, x_hi], y=rc_line, xaxis="x" + xs, yaxis="y" + xs,
            mode="lines", hoverinfo="skip",
            line=dict(color=RC_COLOR, width=6.5),
        ))

        # reference line at zero effect
        shapes.append(dict(
            type="line", xref="x" + xs + " domain", yref="y" + xs,
            x0=0, x1=1, y0=0, y1=0, layer="above",
            line=dict(color="black", width=3, dash="15px,11px"),
        ))

# facet strips: models across the top
for c, name in enumerate(models):
    x0, x1 = col_left[c], col_left[c] + panel_w
    shapes.append(dict(type="rect", xref="paper", yref="paper",
                       x0=fx(x0), x1=fx(x1), y0=fy(70.7), y1=fy(8),
                       fillcolor=STRIP_FILL, line=dict(color=FRAME, width=2),
                       layer="above"))
    annotations.append(dict(text=name, xref="paper", yref="paper",
                            x=fx((x0 + x1) / 2), y=fy(40), showarrow=False,
                            xanchor="center", yanchor="middle",
                            font=dict(size=36, color="#1A1A1A", family=FONT)))

# facet strips: training conditions down the right side
for r, name in enumerate(conditions):
    y0, y1 = row_top[r], row_top[r] + panel_h
    shapes.append(dict(type="rect", xref="paper", yref="paper",
                       x0=fx(1263.5), x1=fx(1325), y0=fy(y1), y1=fy(y0),
                       fillcolor=STRIP_FILL, line=dict(color=FRAME, width=2),
                       layer="above"))
    annotations.append(dict(text=name, xref="paper", yref="paper",
                            x=fx(1294.5), y=fy((y0 + y1) / 2), showarrow=False,
                            textangle=90, xanchor="center", yanchor="middle",
                            font=dict(size=36, color="#1A1A1A", family=FONT)))

# axis titles
annotations.append(dict(text="Attraction Effect (% Accuracy)", xref="paper",
                        yref="paper", x=fx(35), y=fy(365), showarrow=False,
                        textangle=-90, xanchor="center", yanchor="middle",
                        font=dict(size=38, color="black", family=FONT)))
annotations.append(dict(text="log(count)", xref="paper", yref="paper",
                        x=fx(705.5), y=fy(734), showarrow=False,
                        xanchor="center", yanchor="middle",
                        font=dict(size=31, color="black", family=FONT)))

# legend drawn below the panels
legend_keys = [(432, PP_COLOR, 5.5, PP_DASH), (721, RC_COLOR, 6.5, "solid")]
legend_text_x = [503, 792]
for (kx, col, lw, dash), tx, label in zip(legend_keys, legend_text_x, series_names):
    shapes.append(dict(type="rect", xref="paper", yref="paper",
                       x0=fx(kx), x1=fx(kx + 54), y0=fy(856), y1=fy(801),
                       fillcolor="#D6D6D6", line=dict(width=0)))
    shapes.append(dict(type="line", xref="paper", yref="paper",
                       x0=fx(kx + 3), x1=fx(kx + 51), y0=fy(828.5), y1=fy(828.5),
                       line=dict(color=col, width=lw, dash=dash)))
    annotations.append(dict(text=label, xref="paper", yref="paper",
                            x=fx(tx), y=fy(828), showarrow=False,
                            xanchor="left", yanchor="middle",
                            font=dict(size=36, color="black", family=FONT)))

layout["shapes"] = shapes
layout["annotations"] = annotations
fig.update_layout(**layout)

fig.write_html("out.html")
